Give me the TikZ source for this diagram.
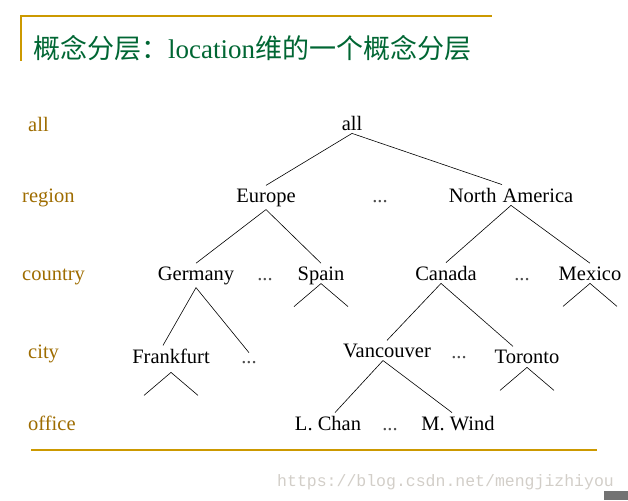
\documentclass[tikz,border=0pt]{standalone}
\usepackage{fontspec}
\usepackage{xcolor}
\setmainfont{Liberation Serif}
\newfontfamily\cjk{Noto Sans CJK SC}
\newfontfamily\wmfont{Liberation Mono}
\usetikzlibrary{calc}
\definecolor{titlegreen}{HTML}{006633}
\definecolor{rulegold}{HTML}{CC9900}
\definecolor{levelbrown}{HTML}{9E6C00}
\definecolor{wmgray}{HTML}{D2CEC8}

\begin{document}
\begin{tikzpicture}[x=1pt, y=-1pt,
    every node/.style={font=\fontsize{20.5}{24}\selectfont, anchor=base},
    concept/.style={inner sep=3pt},
    level/.style={text=levelbrown, anchor=base west, inner sep=0pt},
    more/.style={text=black!70, inner sep=0pt},
    edge/.style={line width=0.6pt}
]
\useasboundingbox (0,0) rectangle (628,500);

% title and rules
\draw[rulegold, line width=1.5pt] (21,61) -- (21,16) -- (492,16);
\node[anchor=base west, inner sep=0pt, text=titlegreen, font=\fontsize{27}{30}\selectfont] (title) at (33,59) {{\cjk 概念分层：}location{\cjk 维的一个概念分层}};
\draw[rulegold, line width=2pt] (31,450) -- (597,450);

% level names
\node[level] (lall)     at (28,131) {all};
\node[level] (lregion)  at (22,202) {region};
\node[level] (lcountry) at (22,280) {country};
\node[level] (lcity)    at (28,358) {city};
\node[level] (loffice)  at (28,430) {office};

% tree
\node[concept] (all)     at (352,130) {all};
\node[concept] (europe)  at (266,202) {Europe};
\node[more]    (dregion) at (380,202) {...};
\node[concept] (namer)   at (511,202) {North\hspace{6pt}America};

\node[concept] (germany) at (196,280) {Germany};
\node[more]    (dger)    at (265,280) {...};
\node[concept] (spain)   at (321,280) {Spain};
\node[concept] (canada)  at (446,280) {Canada};
\node[more]    (dcan)    at (522,280) {...};
\node[concept] (mexico)  at (590,280) {Mexico};

\node[concept] (frankfurt) at (171,363) {Frankfurt};
\node[more]    (dfrank)    at (249,363) {...};
\node[concept] (vancouver) at (387,357) {Vancouver};
\node[more]    (dvan)      at (459,358) {...};
\node[concept] (toronto)   at (527,363) {Toronto};

\node[concept] (lchan)  at (328,430) {L. Chan};
\node[more]    (doff)   at (390,430) {...};
\node[concept] (mwind)  at (458,430) {M. Wind};

\draw[edge] (all.south) -- (europe.north);
\draw[edge] (all.south) -- ([xshift=-9pt]namer.north);
\draw[edge] (europe.south) -- (germany.north);
\draw[edge] (europe.south) -- (spain.north);
\draw[edge] (namer.south) -- (canada.north);
\draw[edge] (namer.south) -- (mexico.north);
\draw[edge] (germany.south) -- ([xshift=-8pt]frankfurt.north);
\draw[edge] (germany.south) -- ([yshift=8pt]dfrank.north);
\draw[edge] ([xshift=-5pt]canada.south) -- (vancouver.north);
\draw[edge] ([xshift=-5pt]canada.south) -- ([xshift=-14pt]toronto.north);
\draw[edge] ([xshift=-4pt]vancouver.south) -- ([xshift=7pt]lchan.north);
\draw[edge] ([xshift=-4pt]vancouver.south) -- ([xshift=-6pt]mwind.north);

% open fans under the leaves
\foreach \n/\dy in {frankfurt/6, spain/-4, mexico/0, toronto/1}
  \draw[edge] ($(\n.south)+(-27,\dy+23)$) -- ($(\n.south)+(0,\dy)$) -- ($(\n.south)+(27,\dy+23)$);

% watermark
\node[anchor=base west, inner sep=0pt, text=wmgray, font=\wmfont\fontsize{16.5}{18}\selectfont] (wm) at (277,486) {https://blog.csdn.net/mengjizhiyou};
\fill[black!55] (604,491) rectangle (628,500);
\end{tikzpicture}
\end{document}
